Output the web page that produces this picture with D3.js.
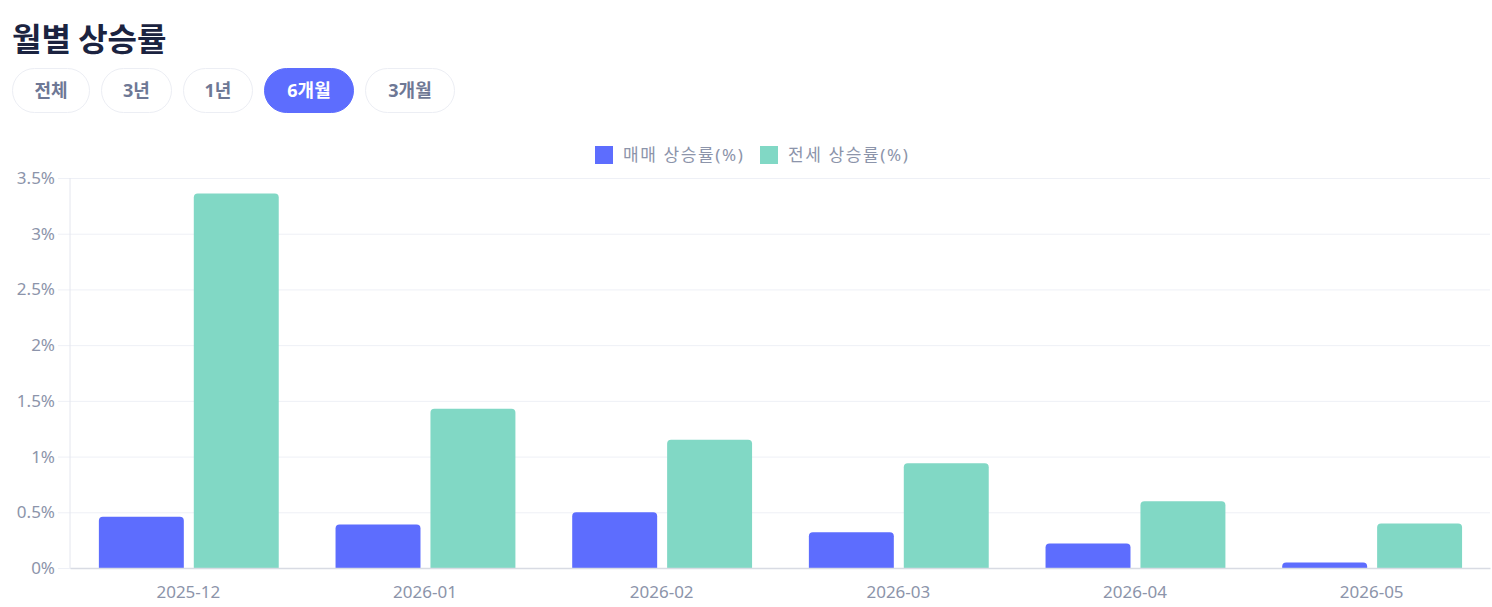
<!DOCTYPE html>
<html>
<head>
<meta charset="utf-8">
<script src="https://cdn.jsdelivr.net/npm/d3@7"></script>
<style>
  body { margin: 0; background: #fff; }
  svg { display: block; font-family: "Noto Sans", "Noto Sans CJK KR", sans-serif; }
</style>
</head>
<body>
<svg id="chart" width="1492" height="607"></svg>
<script>
// Chart data
var months = ["2025-12", "2026-01", "2026-02", "2026-03", "2026-04", "2026-05"];
var seriesNames = ["매매 상승률(%)", "전세 상승률(%)"];
var saleRate = [0.46, 0.39, 0.50, 0.32, 0.22, 0.05];
var jeonseRate = [3.36, 1.43, 1.15, 0.94, 0.60, 0.40];
var yTicks = [0, 0.5, 1, 1.5, 2, 2.5, 3, 3.5];
var periods = ["전체", "3년", "1년", "6개월", "3개월"];
var activePeriod = "6개월";

var colors = ["#5d6dfe", "#81d8c5"];
var width = 1492, height = 607;
var margin = { top: 178, right: 2, bottom: 39, left: 70 };

var svg = d3.select("#chart");

// Title
svg.append("text")
  .attr("x", 12)
  .attr("y", 51)
  .attr("font-size", "32px")
  .attr("font-weight", "700")
  .attr("fill", "#1b2340")
  .attr("font-family", "'Noto Sans CJK KR', sans-serif")
  .text("월별 상승률");

// Period buttons
var btnWidths = [78, 71, 70, 90, 90];
var bx = 12;
periods.forEach(function(p, i) {
  var on = p === activePeriod;
  var g = svg.append("g").attr("transform", "translate(" + bx + ",68)");
  g.append("rect")
    .attr("x", 0.5).attr("y", 0.5)
    .attr("width", btnWidths[i] - 1).attr("height", 44)
    .attr("rx", 22)
    .attr("fill", on ? "#5d6dfe" : "#fff")
    .attr("stroke", on ? "#5d6dfe" : "#eceef4");
  g.append("text")
    .attr("x", btnWidths[i] / 2)
    .attr("y", 29)
    .attr("text-anchor", "middle")
    .attr("font-size", "18px")
    .attr("font-weight", "700")
    .attr("fill", on ? "#fff" : "#6e7895")
    .text(p);
  bx += btnWidths[i] + 11;
});

// Legend
var legendX = [595, 760];
seriesNames.forEach(function(s, i) {
  svg.append("rect")
    .attr("x", legendX[i]).attr("y", 146)
    .attr("width", 18).attr("height", 18)
    .attr("fill", colors[i]);
  svg.append("text")
    .attr("x", legendX[i] + 28)
    .attr("y", 161)
    .attr("font-size", "17px")
    .attr("letter-spacing", "1.6px")
    .attr("fill", "#8c94aa")
    .text(s);
});

// Scales
var x0 = d3.scaleBand()
  .domain(months)
  .range([margin.left, width - margin.right])
  .padding(0);

var bw = x0.bandwidth();
var x1 = d3.scaleBand()
  .domain([0, 1])
  .range([bw * 0.122, bw * 0.882])
  .paddingInner(0.105);

var y = d3.scaleLinear()
  .domain([0, 3.5])
  .range([height - margin.bottom, margin.top]);

// Gridlines + y labels
var yAxis = svg.append("g")
  .attr("transform", "translate(" + margin.left + ",0)")
  .call(d3.axisLeft(y)
    .tickValues(yTicks)
    .tickSize(-(width - margin.left - margin.right))
    .tickPadding(15)
    .tickFormat(function(d) { return d + "%"; }));
yAxis.select(".domain").remove();
yAxis.selectAll(".tick line")
  .attr("x1", -12)
  .attr("stroke", "#eef0f6");
yAxis.selectAll(".tick text")
  .attr("font-size", "17px")
  .attr("fill", "#8c94aa")
  .attr("font-family", "'Noto Sans', sans-serif");

// y axis line
svg.append("line")
  .attr("x1", margin.left).attr("x2", margin.left)
  .attr("y1", y(3.5)).attr("y2", y(0))
  .attr("stroke", "#e4e6ee");

// Bars with rounded top corners
function topRounded(x, yTop, w, h, r) {
  r = Math.min(r, h, w / 2);
  return "M" + x + "," + (yTop + h) +
    "V" + (yTop + r) +
    "Q" + x + "," + yTop + " " + (x + r) + "," + yTop +
    "H" + (x + w - r) +
    "Q" + (x + w) + "," + yTop + " " + (x + w) + "," + (yTop + r) +
    "V" + (yTop + h) + "Z";
}

var rows = months.map(function(m, i) {
  return { month: m, vals: [saleRate[i], jeonseRate[i]] };
});

var groups = svg.selectAll("g.grp")
  .data(rows)
  .enter()
  .append("g")
  .attr("class", "grp")
  .attr("transform", function(d) { return "translate(" + x0(d.month) + ",0)"; });

groups.selectAll("path")
  .data(function(d) { return d.vals.map(function(v, k) { return { k: k, v: v }; }); })
  .enter()
  .append("path")
  .attr("d", function(d) {
    return topRounded(x1(d.k), y(d.v), x1.bandwidth(), y(0) - y(d.v), 4);
  })
  .attr("fill", function(d) { return colors[d.k]; });

// x axis
var xAxis = svg.append("g")
  .attr("transform", "translate(0," + y(0) + ")")
  .call(d3.axisBottom(x0).tickSize(0).tickPadding(18));
xAxis.select(".domain").attr("stroke", "#d8dbe3").attr("stroke-width", 1.5);
xAxis.selectAll(".tick text")
  .attr("font-size", "17px")
  .attr("fill", "#8c94aa")
  .attr("font-family", "'Noto Sans', sans-serif");
</script>
</body>
</html>
